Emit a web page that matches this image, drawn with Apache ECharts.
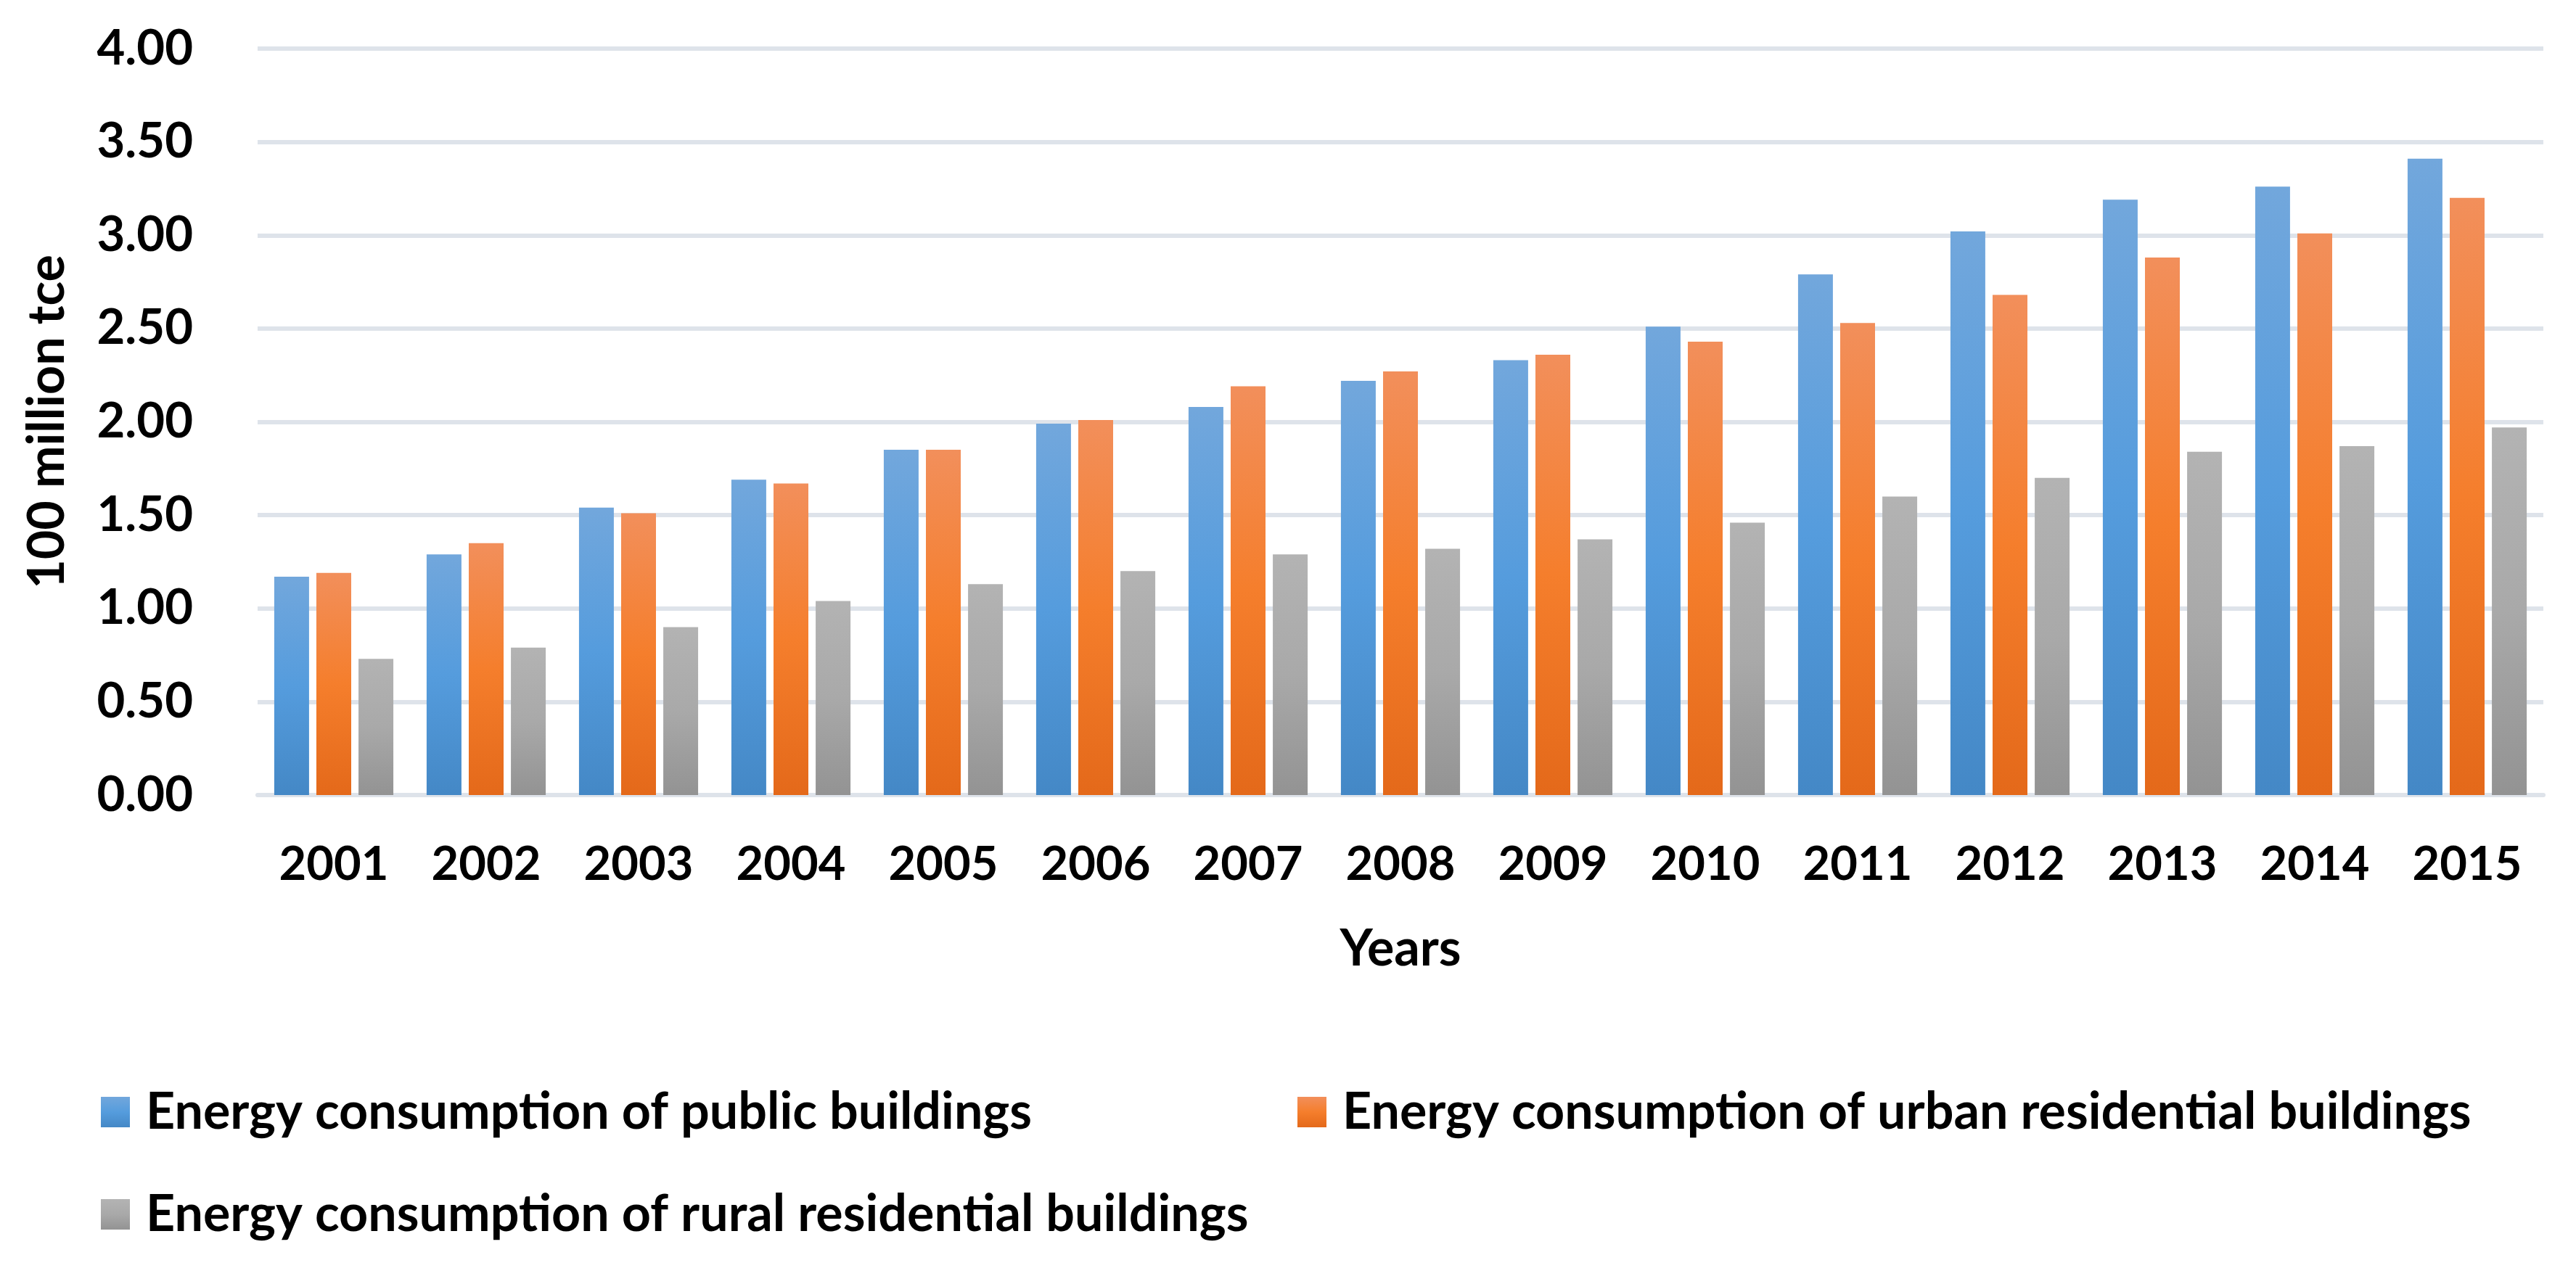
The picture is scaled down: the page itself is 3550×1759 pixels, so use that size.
<!DOCTYPE html>
<html>
<head>
<meta charset="utf-8">
<style>
  html, body { margin: 0; padding: 0; background: #fff; }
  #chart { width: 3550px; height: 1759px; }
</style>
<script src="https://cdn.jsdelivr.net/npm/echarts@6/dist/echarts.min.js"></script>
</head>
<body>
<div id="chart"></div>
<script>
const years = ['2001', '2002', '2003', '2004', '2005', '2006', '2007', '2008',
  '2009', '2010', '2011', '2012', '2013', '2014', '2015'];
const publicBuildings = [1.17, 1.29, 1.54, 1.69, 1.85, 1.99, 2.08, 2.22, 2.33, 2.51, 2.79, 3.02, 3.19, 3.26, 3.41];
const urbanResidential = [1.19, 1.35, 1.51, 1.67, 1.85, 2.01, 2.19, 2.27, 2.36, 2.43, 2.53, 2.68, 2.88, 3.01, 3.20];
const ruralResidential = [0.73, 0.79, 0.90, 1.04, 1.13, 1.20, 1.29, 1.32, 1.37, 1.46, 1.60, 1.70, 1.84, 1.87, 1.97];
const seriesNames = [
  'Energy consumption of public buildings',
  'Energy consumption of urban residential buildings',
  'Energy consumption of rural residential buildings'
];

const FONT = 'Lato';

const grad = (top, mid, bottom) => new echarts.graphic.LinearGradient(0, 0, 0, 1, [
  { offset: 0, color: top },
  { offset: 0.5, color: mid },
  { offset: 1, color: bottom }
]);

const colors = [
  grad('#72a7dc', '#559cdd', '#4488c6'),
  grad('#f28f5b', '#f57e2c', '#e4691a'),
  grad('#b3b3b3', '#a9a9a9', '#939393')
];

const legendBase = {
  orient: 'horizontal',
  icon: 'rect',
  itemWidth: 40,
  itemHeight: 42,
  selectedMode: false,
  textStyle: {
    fontFamily: FONT, fontWeight: 'bold', fontSize: 70, color: '#000',
    padding: [0, 0, 0, 17]
  }
};

const chart = echarts.init(document.getElementById('chart'));

chart.setOption({
  backgroundColor: '#fff',
  animation: false,
  grid: { left: 355, right: 45, top: 67, bottom: 663 },
  legend: [
    Object.assign({}, legendBase, { data: [seriesNames[0]], left: 134, top: 1493 }),
    Object.assign({}, legendBase, { data: [seriesNames[1]], left: 1783, top: 1493 }),
    Object.assign({}, legendBase, { data: [seriesNames[2]], left: 134, top: 1634 })
  ],
  xAxis: {
    type: 'category',
    data: years,
    name: 'Years',
    nameLocation: 'middle',
    nameGap: 177,
    nameTextStyle: { fontFamily: FONT, fontWeight: 'bold', fontSize: 70, color: '#000' },
    axisTick: { show: false },
    axisLine: { lineStyle: { color: '#dee3ea', width: 6 } },
    axisLabel: { fontFamily: FONT, fontWeight: 'bold', fontSize: 65, color: '#000', margin: 64 }
  },
  yAxis: {
    type: 'value',
    min: 0,
    max: 4,
    interval: 0.5,
    name: '100 million tce',
    nameLocation: 'middle',
    nameGap: 255,
    nameTextStyle: { fontFamily: FONT, fontWeight: 'bold', fontSize: 70, color: '#000' },
    axisLine: { show: false },
    axisTick: { show: false },
    splitLine: { lineStyle: { color: '#dee3ea', width: 6 } },
    axisLabel: {
      fontFamily: FONT, fontWeight: 'bold', fontSize: 67, color: '#000', margin: 89,
      formatter: (v) => v.toFixed(2)
    }
  },
  series: [publicBuildings, urbanResidential, ruralResidential].map((data, i) => ({
    name: seriesNames[i],
    type: 'bar',
    data: data,
    barWidth: 48,
    barGap: '21%',
    itemStyle: { color: colors[i] }
  }))
});
</script>
</body>
</html>
